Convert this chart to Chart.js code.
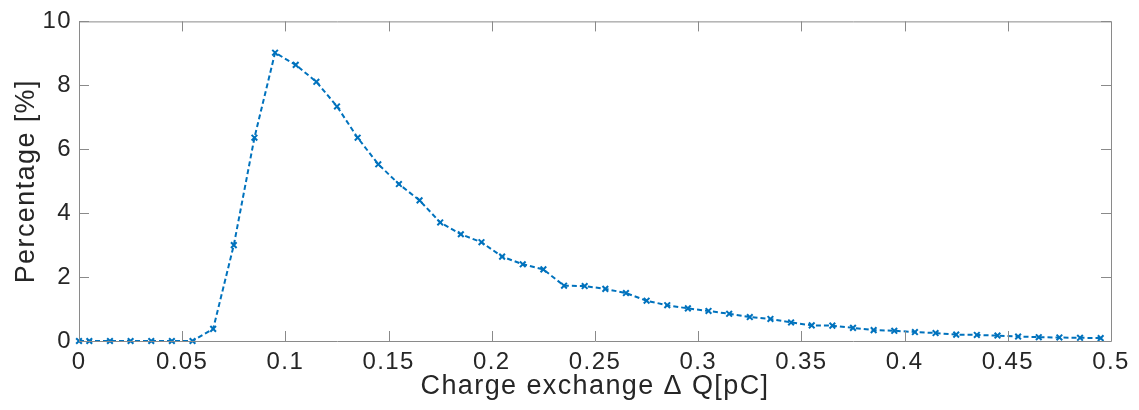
<!DOCTYPE html>
<html>

<head>
    <title>Charge exchange distribution</title>
    <style>
        html,
        body {
            margin: 0;
            padding: 0;
            background-color: #fff;
        }

        #wrap {
            width: 1139px;
            height: 410px;
        }
    </style>
</head>

<body>
    <div id="wrap"><canvas id="chart"></canvas></div>
    <script src="https://cdn.jsdelivr.net/npm/chart.js"></script>
    <script>
        // Charge exchange dQ [pC]
        const chargeValues = [
            0, 0.005, 0.015, 0.025, 0.035, 0.045, 0.055, 0.065, 0.075, 0.085,
            0.095, 0.105, 0.115, 0.125, 0.135, 0.145, 0.155, 0.165, 0.175, 0.185,
            0.195, 0.205, 0.215, 0.225, 0.235, 0.245, 0.255, 0.265, 0.275, 0.285,
            0.295, 0.305, 0.315, 0.325, 0.335, 0.345, 0.355, 0.365, 0.375, 0.385,
            0.395, 0.405, 0.415, 0.425, 0.435, 0.445, 0.455, 0.465, 0.475, 0.485,
            0.495
        ];

        // Percentage [%]
        const percentValues = [
            0, 0, 0, 0, 0, 0, 0, 0.38, 3.0, 6.36,
            9.02, 8.64, 8.11, 7.34, 6.36, 5.53, 4.91, 4.40, 3.71, 3.34,
            3.09, 2.64, 2.40, 2.24, 1.73, 1.72, 1.63, 1.50, 1.26, 1.12,
            1.02, 0.94, 0.85, 0.75, 0.69, 0.58, 0.49, 0.48, 0.41, 0.34,
            0.32, 0.28, 0.25, 0.20, 0.19, 0.17, 0.14, 0.12, 0.11, 0.10,
            0.09
        ];

        const xTickLabels = ['0', '0.05', '0.1', '0.15', '0.2', '0.25', '0.3', '0.35', '0.4', '0.45', '0.5'];
        const yTickLabels = ['0', '2', '4', '6', '8', '10'];

        const blue = '#0072BD';
        const textColor = '#262626';
        const axisColor = '#8a8a8a';
        const fontFamily = '"Liberation Sans", Arial, Helvetica, sans-serif';

        // wider letter spacing, like the original figure's Helvetica
        const spacing = {
            id: 'spacing',
            beforeLayout(chart) { chart.ctx.letterSpacing = '1.4px'; },
            beforeDraw(chart) { chart.ctx.letterSpacing = '1.4px'; }
        };

        // MATLAB style box with inward ticks
        const box = {
            id: 'box',
            afterDraw(chart) {
                const { ctx, chartArea: a, scales } = chart;
                const len = 10;
                ctx.save();
                ctx.strokeStyle = axisColor;
                ctx.lineWidth = 1;
                ctx.beginPath();
                ctx.rect(a.left + 0.5, a.top + 0.5, a.right - a.left, a.bottom - a.top);
                scales.x.ticks.forEach((t, i) => {
                    const px = Math.round(scales.x.getPixelForTick(i)) + 0.5;
                    ctx.moveTo(px, a.bottom);
                    ctx.lineTo(px, a.bottom - len);
                    ctx.moveTo(px, a.top);
                    ctx.lineTo(px, a.top + len);
                });
                scales.y.ticks.forEach((t, i) => {
                    const py = Math.round(scales.y.getPixelForTick(i)) + 0.5;
                    ctx.moveTo(a.left, py);
                    ctx.lineTo(a.left + len, py);
                    ctx.moveTo(a.right, py);
                    ctx.lineTo(a.right - len, py);
                });
                ctx.stroke();
                ctx.restore();
            }
        };

        new Chart(document.getElementById('chart'), {
            type: 'line',
            data: {
                datasets: [{
                    data: chargeValues.map((x, i) => ({ x, y: percentValues[i] })),
                    borderColor: blue,
                    backgroundColor: blue,
                    borderWidth: 2,
                    borderDash: [5, 3],
                    pointStyle: 'crossRot',
                    pointRadius: 4,
                    pointBorderWidth: 2,
                    pointBorderColor: blue,
                    tension: 0,
                    fill: false,
                    clip: false
                }]
            },
            options: {
                responsive: true,
                maintainAspectRatio: false,
                animation: false,
                layout: {
                    padding: { left: 6, right: 28, top: 20, bottom: 3 }
                },
                plugins: {
                    legend: { display: false },
                    tooltip: { enabled: false }
                },
                scales: {
                    x: {
                        type: 'linear',
                        min: 0,
                        max: 0.5,
                        grid: { display: false, drawTicks: false },
                        border: { display: false },
                        ticks: {
                            stepSize: 0.05,
                            padding: 7,
                            color: textColor,
                            maxRotation: 0,
                            autoSkip: false,
                            font: { family: fontFamily, size: 24 },
                            callback: (v, i) => xTickLabels[i]
                        },
                        title: {
                            display: true,
                            text: 'Charge exchange \u0394 Q[pC]',
                            color: textColor,
                            font: { family: fontFamily, size: 27 }
                        },
                        afterFit: (scale) => { scale.height = 66; }
                    },
                    y: {
                        min: 0,
                        max: 10,
                        grid: { display: false, drawTicks: false },
                        border: { display: false },
                        ticks: {
                            stepSize: 2,
                            padding: 7,
                            color: textColor,
                            font: { family: fontFamily, size: 24 },
                            callback: (v, i) => yTickLabels[i]
                        },
                        title: {
                            display: true,
                            text: 'Percentage [%]',
                            color: textColor,
                            font: { family: fontFamily, size: 27 }
                        },
                        afterFit: (scale) => { scale.width = 73; }
                    }
                }
            },
            plugins: [spacing, box]
        });
    </script>
</body>

</html>
